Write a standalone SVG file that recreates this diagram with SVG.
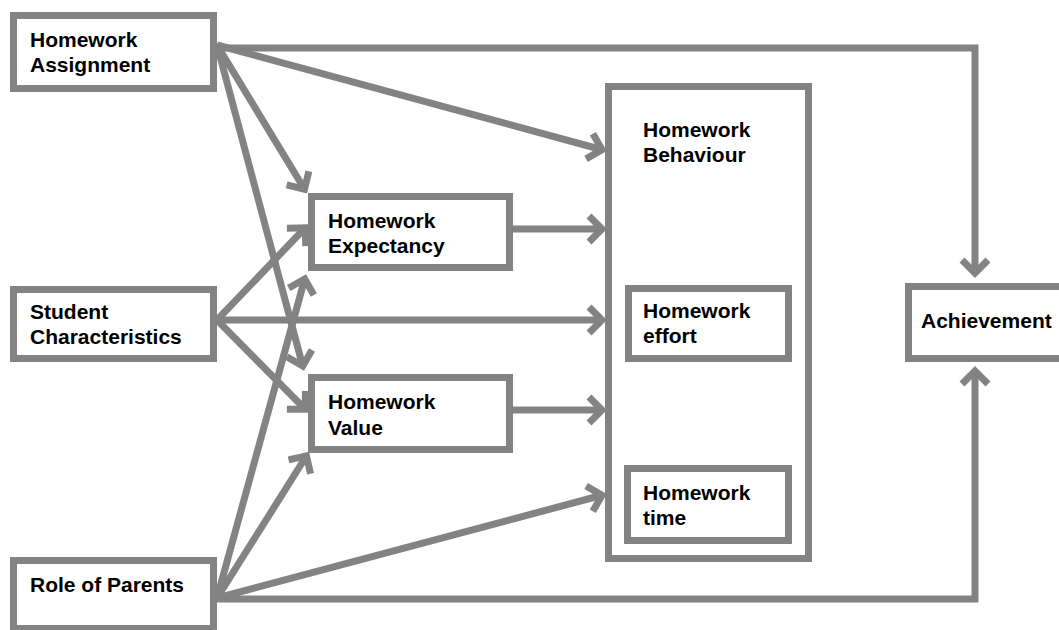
<svg xmlns="http://www.w3.org/2000/svg" width="1059" height="630" viewBox="0 0 1059 630">
<style>
.box{fill:#fff;stroke:#838383;stroke-width:7}
.lbl{font-family:"Liberation Sans",Arial,sans-serif;font-weight:bold;font-size:21px;fill:#000}
.con{fill:none;stroke:#838383;stroke-width:7}
</style>
<defs>
<marker id="ah" markerUnits="userSpaceOnUse" viewBox="-22 -20 28 40" markerWidth="28" markerHeight="40" refX="0" refY="0" orient="auto">
<path d="M-14,-13 L-1,0 L-14,13" fill="none" stroke="#838383" stroke-width="7"/>
</marker>
</defs>
<rect width="1059" height="630" fill="#fff"/>
<g id="connectors">
<path class="con" d="M217,48 H975 V274" marker-end="url(#ah)"/>
<path class="con" d="M217,599 H975 V370" marker-end="url(#ah)"/>
<line class="con" x1="217" y1="45" x2="603" y2="150" marker-end="url(#ah)"/>
<line class="con" x1="217" y1="45" x2="305" y2="190" marker-end="url(#ah)"/>
<line class="con" x1="217" y1="45" x2="303" y2="367" marker-end="url(#ah)"/>
<line class="con" x1="217" y1="320" x2="306" y2="227" marker-end="url(#ah)"/>
<line class="con" x1="217" y1="320" x2="603" y2="320" marker-end="url(#ah)"/>
<line class="con" x1="217" y1="320" x2="306" y2="410" marker-end="url(#ah)"/>
<line class="con" x1="217" y1="598" x2="305" y2="278" marker-end="url(#ah)"/>
<line class="con" x1="217" y1="598" x2="307" y2="455" marker-end="url(#ah)"/>
<line class="con" x1="217" y1="598" x2="603" y2="495" marker-end="url(#ah)"/>
<line class="con" x1="513" y1="229" x2="603" y2="229" marker-end="url(#ah)"/>
<line class="con" x1="513" y1="410" x2="603" y2="410" marker-end="url(#ah)"/>
</g>
<g id="homework-assignment">
<rect class="box" x="13.5" y="15.5" width="200" height="73"/>
<text class="lbl" x="30" y="47">Homework</text>
<text class="lbl" x="30" y="72">Assignment</text>
</g>
<g id="student-characteristics">
<rect class="box" x="13.5" y="289.5" width="200" height="69"/>
<text class="lbl" x="30" y="319">Student</text>
<text class="lbl" x="30" y="344">Characteristics</text>
</g>
<g id="role-of-parents">
<rect class="box" x="13.5" y="560.5" width="200" height="68"/>
<text class="lbl" x="30" y="592">Role of Parents</text>
</g>
<g id="homework-expectancy">
<rect class="box" x="311.5" y="196.5" width="198" height="71"/>
<text class="lbl" x="328" y="228">Homework</text>
<text class="lbl" x="328" y="253">Expectancy</text>
</g>
<g id="homework-value">
<rect class="box" x="311.5" y="377.5" width="198" height="72"/>
<text class="lbl" x="328" y="409">Homework</text>
<text class="lbl" x="328" y="435">Value</text>
</g>
<g id="homework-behaviour">
<rect class="box" x="608.5" y="86.5" width="200" height="472"/>
<text class="lbl" x="643" y="137">Homework</text>
<text class="lbl" x="643" y="162">Behaviour</text>
</g>
<g id="homework-effort">
<rect class="box" x="628.5" y="288.5" width="160" height="70"/>
<text class="lbl" x="643" y="318">Homework</text>
<text class="lbl" x="643" y="343">effort</text>
</g>
<g id="homework-time">
<rect class="box" x="627.5" y="468.5" width="161" height="72"/>
<text class="lbl" x="643" y="500">Homework</text>
<text class="lbl" x="643" y="525">time</text>
</g>
<g id="achievement">
<rect class="box" x="908.5" y="286.5" width="160" height="72"/>
<text class="lbl" x="921" y="328">Achievement</text>
</g>
</svg>
